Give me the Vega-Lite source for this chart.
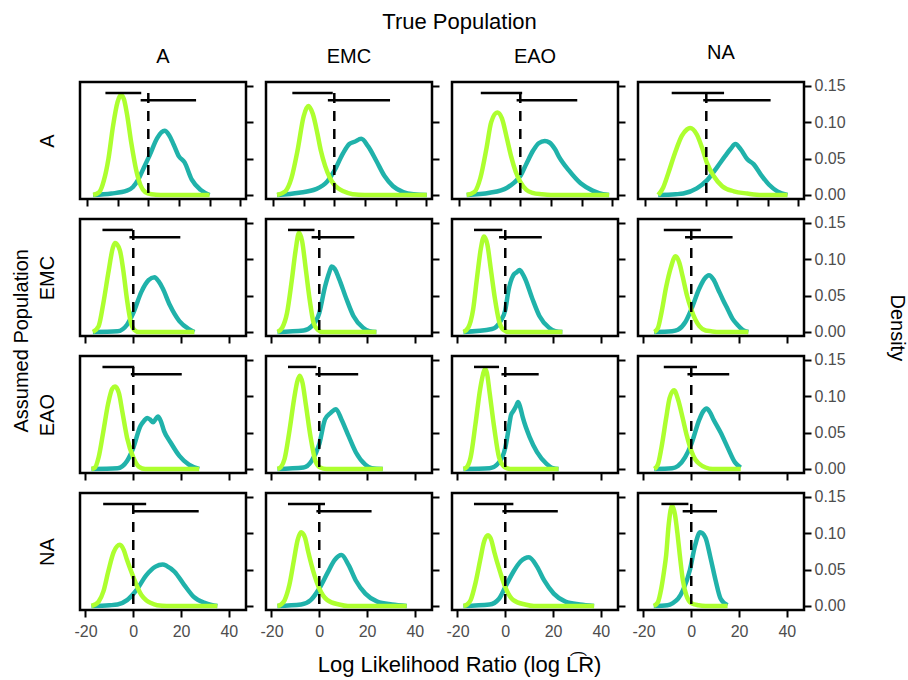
{
"$schema":"https://vega.github.io/schema/vega-lite/v6.json",
"padding":{"left":11,"top":11,"right":3,"bottom":2},
"data":{"name":"all"},
"title":{"text":"True Population","orient":"top","anchor":"middle","fontSize":22,"offset":7},
"vconcat":[{
"title":{"text":"Log Likelihood Ratio (log L\u0361R)","orient":"bottom","anchor":"middle","fontSize":22,"offset":15},
"vconcat":[{
"title":{"text":"Assumed Population","orient":"left","anchor":"middle","fontSize":20,"offset":4},
"vconcat":[{
"title":{"text":"Density","orient":"right","anchor":"middle","angle":90,"fontSize":20,"offset":41,"dx":-13},
"spacing":4,
"vconcat":[
{"hconcat":[
{"width":166,"height":117,"title":{"text":"A","fontSize":20,"offset":15},"resolve":{"axis":{"y":"independent"}},
"transform":[{"filter":"datum.r=='A'&&datum.c=='A'"}],
"encoding":{"x":{"field":"x","type":"quantitative","scale":{"domain":[-22.3,31.9]},"axis":{"values":[-20,-10,0,10,20,30],"labels":false,"title":null}},
"y":{"field":"d","type":"quantitative","scale":{"domain":[-0.0055,0.155]},"axis":null}},
"layer":[
{"transform":[{"filter":"datum.k=='t'"}],"mark":{"type":"line","color":"#20B2AA","strokeWidth":4.5,"interpolate":"monotone"},"encoding":{"y":{"field":"d","type":"quantitative","scale":{"domain":[-0.0055,0.155]},"axis":{"orient":"right","values":[0,0.05,0.1,0.15],"labels":false,"title":null}}}},
{"transform":[{"filter":"datum.k=='g'"}],"mark":{"type":"line","color":"#ADFF2F","strokeWidth":4.5,"interpolate":"monotone"}},
{"transform":[{"filter":"datum.k=='i'"}],"mark":{"type":"rule","color":"black","strokeWidth":2.5},"encoding":{"x2":{"field":"x2"}}},
{"transform":[{"filter":"datum.k=='v'"}],"mark":{"type":"rule","color":"black","strokeWidth":2.5,"strokeDash":[10,8]},"encoding":{"y":{"field":"d","type":"quantitative","scale":{"domain":[-0.0055,0.155]},"axis":{"orient":"left","title":"A","ticks":false,"labels":false,"domain":false,"titlePadding":23}},"y2":{"field":"d2"}}}
]},
{"width":166,"height":117,"title":{"text":"EMC","fontSize":20,"offset":15},
"transform":[{"filter":"datum.r=='A'&&datum.c=='EMC'"}],
"encoding":{"x":{"field":"x","type":"quantitative","scale":{"domain":[-22.3,31.9]},"axis":{"values":[-20,-10,0,10,20,30],"labels":false,"title":null}},
"y":{"field":"d","type":"quantitative","scale":{"domain":[-0.0055,0.155]},"axis":{"orient":"right","values":[0,0.05,0.1,0.15],"labels":false,"title":null}}},
"layer":[
{"transform":[{"filter":"datum.k=='t'"}],"mark":{"type":"line","color":"#20B2AA","strokeWidth":4.5,"interpolate":"monotone"}},
{"transform":[{"filter":"datum.k=='g'"}],"mark":{"type":"line","color":"#ADFF2F","strokeWidth":4.5,"interpolate":"monotone"}},
{"transform":[{"filter":"datum.k=='i'"}],"mark":{"type":"rule","color":"black","strokeWidth":2.5},"encoding":{"x2":{"field":"x2"}}},
{"transform":[{"filter":"datum.k=='v'"}],"mark":{"type":"rule","color":"black","strokeWidth":2.5,"strokeDash":[10,8]},"encoding":{"y2":{"field":"d2"}}}
]},
{"width":166,"height":117,"title":{"text":"EAO","fontSize":20,"offset":15},
"transform":[{"filter":"datum.r=='A'&&datum.c=='EAO'"}],
"encoding":{"x":{"field":"x","type":"quantitative","scale":{"domain":[-22.3,31.9]},"axis":{"values":[-20,-10,0,10,20,30],"labels":false,"title":null}},
"y":{"field":"d","type":"quantitative","scale":{"domain":[-0.0055,0.155]},"axis":{"orient":"right","values":[0,0.05,0.1,0.15],"labels":false,"title":null}}},
"layer":[
{"transform":[{"filter":"datum.k=='t'"}],"mark":{"type":"line","color":"#20B2AA","strokeWidth":4.5,"interpolate":"monotone"}},
{"transform":[{"filter":"datum.k=='g'"}],"mark":{"type":"line","color":"#ADFF2F","strokeWidth":4.5,"interpolate":"monotone"}},
{"transform":[{"filter":"datum.k=='i'"}],"mark":{"type":"rule","color":"black","strokeWidth":2.5},"encoding":{"x2":{"field":"x2"}}},
{"transform":[{"filter":"datum.k=='v'"}],"mark":{"type":"rule","color":"black","strokeWidth":2.5,"strokeDash":[10,8]},"encoding":{"y2":{"field":"d2"}}}
]},
{"width":166,"height":117,"title":{"text":"NA","fontSize":20,"offset":15},
"transform":[{"filter":"datum.r=='A'&&datum.c=='NA'"}],
"encoding":{"x":{"field":"x","type":"quantitative","scale":{"domain":[-22.3,31.9]},"axis":{"values":[-20,-10,0,10,20,30],"labels":false,"title":null}},
"y":{"field":"d","type":"quantitative","scale":{"domain":[-0.0055,0.155]},"axis":{"orient":"right","values":[0,0.05,0.1,0.15],"format":".2f","title":null}}},
"layer":[
{"transform":[{"filter":"datum.k=='t'"}],"mark":{"type":"line","color":"#20B2AA","strokeWidth":4.5,"interpolate":"monotone"}},
{"transform":[{"filter":"datum.k=='g'"}],"mark":{"type":"line","color":"#ADFF2F","strokeWidth":4.5,"interpolate":"monotone"}},
{"transform":[{"filter":"datum.k=='i'"}],"mark":{"type":"rule","color":"black","strokeWidth":2.5},"encoding":{"x2":{"field":"x2"}}},
{"transform":[{"filter":"datum.k=='v'"}],"mark":{"type":"rule","color":"black","strokeWidth":2.5,"strokeDash":[10,8]},"encoding":{"y2":{"field":"d2"}}}
]}
],"spacing":20,"bounds":"flush"},
{"hconcat":[
{"width":166,"height":117,"resolve":{"axis":{"y":"independent"}},
"transform":[{"filter":"datum.r=='EMC'&&datum.c=='A'"}],
"encoding":{"x":{"field":"x","type":"quantitative","scale":{"domain":[-22.3,47.2]},"axis":{"values":[-20,0,20,40],"labels":false,"title":null}},
"y":{"field":"d","type":"quantitative","scale":{"domain":[-0.0055,0.155]},"axis":null}},
"layer":[
{"transform":[{"filter":"datum.k=='t'"}],"mark":{"type":"line","color":"#20B2AA","strokeWidth":4.5,"interpolate":"monotone"},"encoding":{"y":{"field":"d","type":"quantitative","scale":{"domain":[-0.0055,0.155]},"axis":{"orient":"right","values":[0,0.05,0.1,0.15],"labels":false,"title":null}}}},
{"transform":[{"filter":"datum.k=='g'"}],"mark":{"type":"line","color":"#ADFF2F","strokeWidth":4.5,"interpolate":"monotone"}},
{"transform":[{"filter":"datum.k=='i'"}],"mark":{"type":"rule","color":"black","strokeWidth":2.5},"encoding":{"x2":{"field":"x2"}}},
{"transform":[{"filter":"datum.k=='v'"}],"mark":{"type":"rule","color":"black","strokeWidth":2.5,"strokeDash":[10,8]},"encoding":{"y":{"field":"d","type":"quantitative","scale":{"domain":[-0.0055,0.155]},"axis":{"orient":"left","title":"EMC","ticks":false,"labels":false,"domain":false,"titlePadding":23}},"y2":{"field":"d2"}}}
]},
{"width":166,"height":117,
"transform":[{"filter":"datum.r=='EMC'&&datum.c=='EMC'"}],
"encoding":{"x":{"field":"x","type":"quantitative","scale":{"domain":[-22.3,47.2]},"axis":{"values":[-20,0,20,40],"labels":false,"title":null}},
"y":{"field":"d","type":"quantitative","scale":{"domain":[-0.0055,0.155]},"axis":{"orient":"right","values":[0,0.05,0.1,0.15],"labels":false,"title":null}}},
"layer":[
{"transform":[{"filter":"datum.k=='t'"}],"mark":{"type":"line","color":"#20B2AA","strokeWidth":4.5,"interpolate":"monotone"}},
{"transform":[{"filter":"datum.k=='g'"}],"mark":{"type":"line","color":"#ADFF2F","strokeWidth":4.5,"interpolate":"monotone"}},
{"transform":[{"filter":"datum.k=='i'"}],"mark":{"type":"rule","color":"black","strokeWidth":2.5},"encoding":{"x2":{"field":"x2"}}},
{"transform":[{"filter":"datum.k=='v'"}],"mark":{"type":"rule","color":"black","strokeWidth":2.5,"strokeDash":[10,8]},"encoding":{"y2":{"field":"d2"}}}
]},
{"width":166,"height":117,
"transform":[{"filter":"datum.r=='EMC'&&datum.c=='EAO'"}],
"encoding":{"x":{"field":"x","type":"quantitative","scale":{"domain":[-22.3,47.2]},"axis":{"values":[-20,0,20,40],"labels":false,"title":null}},
"y":{"field":"d","type":"quantitative","scale":{"domain":[-0.0055,0.155]},"axis":{"orient":"right","values":[0,0.05,0.1,0.15],"labels":false,"title":null}}},
"layer":[
{"transform":[{"filter":"datum.k=='t'"}],"mark":{"type":"line","color":"#20B2AA","strokeWidth":4.5,"interpolate":"monotone"}},
{"transform":[{"filter":"datum.k=='g'"}],"mark":{"type":"line","color":"#ADFF2F","strokeWidth":4.5,"interpolate":"monotone"}},
{"transform":[{"filter":"datum.k=='i'"}],"mark":{"type":"rule","color":"black","strokeWidth":2.5},"encoding":{"x2":{"field":"x2"}}},
{"transform":[{"filter":"datum.k=='v'"}],"mark":{"type":"rule","color":"black","strokeWidth":2.5,"strokeDash":[10,8]},"encoding":{"y2":{"field":"d2"}}}
]},
{"width":166,"height":117,
"transform":[{"filter":"datum.r=='EMC'&&datum.c=='NA'"}],
"encoding":{"x":{"field":"x","type":"quantitative","scale":{"domain":[-22.3,47.2]},"axis":{"values":[-20,0,20,40],"labels":false,"title":null}},
"y":{"field":"d","type":"quantitative","scale":{"domain":[-0.0055,0.155]},"axis":{"orient":"right","values":[0,0.05,0.1,0.15],"format":".2f","title":null}}},
"layer":[
{"transform":[{"filter":"datum.k=='t'"}],"mark":{"type":"line","color":"#20B2AA","strokeWidth":4.5,"interpolate":"monotone"}},
{"transform":[{"filter":"datum.k=='g'"}],"mark":{"type":"line","color":"#ADFF2F","strokeWidth":4.5,"interpolate":"monotone"}},
{"transform":[{"filter":"datum.k=='i'"}],"mark":{"type":"rule","color":"black","strokeWidth":2.5},"encoding":{"x2":{"field":"x2"}}},
{"transform":[{"filter":"datum.k=='v'"}],"mark":{"type":"rule","color":"black","strokeWidth":2.5,"strokeDash":[10,8]},"encoding":{"y2":{"field":"d2"}}}
]}
],"spacing":20,"bounds":"flush"},
{"hconcat":[
{"width":166,"height":117,"resolve":{"axis":{"y":"independent"}},
"transform":[{"filter":"datum.r=='EAO'&&datum.c=='A'"}],
"encoding":{"x":{"field":"x","type":"quantitative","scale":{"domain":[-22.3,47.2]},"axis":{"values":[-20,0,20,40],"labels":false,"title":null}},
"y":{"field":"d","type":"quantitative","scale":{"domain":[-0.0055,0.155]},"axis":null}},
"layer":[
{"transform":[{"filter":"datum.k=='t'"}],"mark":{"type":"line","color":"#20B2AA","strokeWidth":4.5,"interpolate":"monotone"},"encoding":{"y":{"field":"d","type":"quantitative","scale":{"domain":[-0.0055,0.155]},"axis":{"orient":"right","values":[0,0.05,0.1,0.15],"labels":false,"title":null}}}},
{"transform":[{"filter":"datum.k=='g'"}],"mark":{"type":"line","color":"#ADFF2F","strokeWidth":4.5,"interpolate":"monotone"}},
{"transform":[{"filter":"datum.k=='i'"}],"mark":{"type":"rule","color":"black","strokeWidth":2.5},"encoding":{"x2":{"field":"x2"}}},
{"transform":[{"filter":"datum.k=='v'"}],"mark":{"type":"rule","color":"black","strokeWidth":2.5,"strokeDash":[10,8]},"encoding":{"y":{"field":"d","type":"quantitative","scale":{"domain":[-0.0055,0.155]},"axis":{"orient":"left","title":"EAO","ticks":false,"labels":false,"domain":false,"titlePadding":23}},"y2":{"field":"d2"}}}
]},
{"width":166,"height":117,
"transform":[{"filter":"datum.r=='EAO'&&datum.c=='EMC'"}],
"encoding":{"x":{"field":"x","type":"quantitative","scale":{"domain":[-22.3,47.2]},"axis":{"values":[-20,0,20,40],"labels":false,"title":null}},
"y":{"field":"d","type":"quantitative","scale":{"domain":[-0.0055,0.155]},"axis":{"orient":"right","values":[0,0.05,0.1,0.15],"labels":false,"title":null}}},
"layer":[
{"transform":[{"filter":"datum.k=='t'"}],"mark":{"type":"line","color":"#20B2AA","strokeWidth":4.5,"interpolate":"monotone"}},
{"transform":[{"filter":"datum.k=='g'"}],"mark":{"type":"line","color":"#ADFF2F","strokeWidth":4.5,"interpolate":"monotone"}},
{"transform":[{"filter":"datum.k=='i'"}],"mark":{"type":"rule","color":"black","strokeWidth":2.5},"encoding":{"x2":{"field":"x2"}}},
{"transform":[{"filter":"datum.k=='v'"}],"mark":{"type":"rule","color":"black","strokeWidth":2.5,"strokeDash":[10,8]},"encoding":{"y2":{"field":"d2"}}}
]},
{"width":166,"height":117,
"transform":[{"filter":"datum.r=='EAO'&&datum.c=='EAO'"}],
"encoding":{"x":{"field":"x","type":"quantitative","scale":{"domain":[-22.3,47.2]},"axis":{"values":[-20,0,20,40],"labels":false,"title":null}},
"y":{"field":"d","type":"quantitative","scale":{"domain":[-0.0055,0.155]},"axis":{"orient":"right","values":[0,0.05,0.1,0.15],"labels":false,"title":null}}},
"layer":[
{"transform":[{"filter":"datum.k=='t'"}],"mark":{"type":"line","color":"#20B2AA","strokeWidth":4.5,"interpolate":"monotone"}},
{"transform":[{"filter":"datum.k=='g'"}],"mark":{"type":"line","color":"#ADFF2F","strokeWidth":4.5,"interpolate":"monotone"}},
{"transform":[{"filter":"datum.k=='i'"}],"mark":{"type":"rule","color":"black","strokeWidth":2.5},"encoding":{"x2":{"field":"x2"}}},
{"transform":[{"filter":"datum.k=='v'"}],"mark":{"type":"rule","color":"black","strokeWidth":2.5,"strokeDash":[10,8]},"encoding":{"y2":{"field":"d2"}}}
]},
{"width":166,"height":117,
"transform":[{"filter":"datum.r=='EAO'&&datum.c=='NA'"}],
"encoding":{"x":{"field":"x","type":"quantitative","scale":{"domain":[-22.3,47.2]},"axis":{"values":[-20,0,20,40],"labels":false,"title":null}},
"y":{"field":"d","type":"quantitative","scale":{"domain":[-0.0055,0.155]},"axis":{"orient":"right","values":[0,0.05,0.1,0.15],"format":".2f","title":null}}},
"layer":[
{"transform":[{"filter":"datum.k=='t'"}],"mark":{"type":"line","color":"#20B2AA","strokeWidth":4.5,"interpolate":"monotone"}},
{"transform":[{"filter":"datum.k=='g'"}],"mark":{"type":"line","color":"#ADFF2F","strokeWidth":4.5,"interpolate":"monotone"}},
{"transform":[{"filter":"datum.k=='i'"}],"mark":{"type":"rule","color":"black","strokeWidth":2.5},"encoding":{"x2":{"field":"x2"}}},
{"transform":[{"filter":"datum.k=='v'"}],"mark":{"type":"rule","color":"black","strokeWidth":2.5,"strokeDash":[10,8]},"encoding":{"y2":{"field":"d2"}}}
]}
],"spacing":20,"bounds":"flush"},
{"hconcat":[
{"width":166,"height":117,"resolve":{"axis":{"y":"independent"}},
"transform":[{"filter":"datum.r=='NA'&&datum.c=='A'"}],
"encoding":{"x":{"field":"x","type":"quantitative","scale":{"domain":[-22.3,47.2]},"axis":{"values":[-20,0,20,40],"title":null,"labelPadding":6,"labelExpr":"''+datum.value"}},
"y":{"field":"d","type":"quantitative","scale":{"domain":[-0.0055,0.155]},"axis":null}},
"layer":[
{"transform":[{"filter":"datum.k=='t'"}],"mark":{"type":"line","color":"#20B2AA","strokeWidth":4.5,"interpolate":"monotone"},"encoding":{"y":{"field":"d","type":"quantitative","scale":{"domain":[-0.0055,0.155]},"axis":{"orient":"right","values":[0,0.05,0.1,0.15],"labels":false,"title":null}}}},
{"transform":[{"filter":"datum.k=='g'"}],"mark":{"type":"line","color":"#ADFF2F","strokeWidth":4.5,"interpolate":"monotone"}},
{"transform":[{"filter":"datum.k=='i'"}],"mark":{"type":"rule","color":"black","strokeWidth":2.5},"encoding":{"x2":{"field":"x2"}}},
{"transform":[{"filter":"datum.k=='v'"}],"mark":{"type":"rule","color":"black","strokeWidth":2.5,"strokeDash":[10,8]},"encoding":{"y":{"field":"d","type":"quantitative","scale":{"domain":[-0.0055,0.155]},"axis":{"orient":"left","title":"NA","ticks":false,"labels":false,"domain":false,"titlePadding":23}},"y2":{"field":"d2"}}}
]},
{"width":166,"height":117,
"transform":[{"filter":"datum.r=='NA'&&datum.c=='EMC'"}],
"encoding":{"x":{"field":"x","type":"quantitative","scale":{"domain":[-22.3,47.2]},"axis":{"values":[-20,0,20,40],"title":null,"labelPadding":6,"labelExpr":"''+datum.value"}},
"y":{"field":"d","type":"quantitative","scale":{"domain":[-0.0055,0.155]},"axis":{"orient":"right","values":[0,0.05,0.1,0.15],"labels":false,"title":null}}},
"layer":[
{"transform":[{"filter":"datum.k=='t'"}],"mark":{"type":"line","color":"#20B2AA","strokeWidth":4.5,"interpolate":"monotone"}},
{"transform":[{"filter":"datum.k=='g'"}],"mark":{"type":"line","color":"#ADFF2F","strokeWidth":4.5,"interpolate":"monotone"}},
{"transform":[{"filter":"datum.k=='i'"}],"mark":{"type":"rule","color":"black","strokeWidth":2.5},"encoding":{"x2":{"field":"x2"}}},
{"transform":[{"filter":"datum.k=='v'"}],"mark":{"type":"rule","color":"black","strokeWidth":2.5,"strokeDash":[10,8]},"encoding":{"y2":{"field":"d2"}}}
]},
{"width":166,"height":117,
"transform":[{"filter":"datum.r=='NA'&&datum.c=='EAO'"}],
"encoding":{"x":{"field":"x","type":"quantitative","scale":{"domain":[-22.3,47.2]},"axis":{"values":[-20,0,20,40],"title":null,"labelPadding":6,"labelExpr":"''+datum.value"}},
"y":{"field":"d","type":"quantitative","scale":{"domain":[-0.0055,0.155]},"axis":{"orient":"right","values":[0,0.05,0.1,0.15],"labels":false,"title":null}}},
"layer":[
{"transform":[{"filter":"datum.k=='t'"}],"mark":{"type":"line","color":"#20B2AA","strokeWidth":4.5,"interpolate":"monotone"}},
{"transform":[{"filter":"datum.k=='g'"}],"mark":{"type":"line","color":"#ADFF2F","strokeWidth":4.5,"interpolate":"monotone"}},
{"transform":[{"filter":"datum.k=='i'"}],"mark":{"type":"rule","color":"black","strokeWidth":2.5},"encoding":{"x2":{"field":"x2"}}},
{"transform":[{"filter":"datum.k=='v'"}],"mark":{"type":"rule","color":"black","strokeWidth":2.5,"strokeDash":[10,8]},"encoding":{"y2":{"field":"d2"}}}
]},
{"width":166,"height":117,
"transform":[{"filter":"datum.r=='NA'&&datum.c=='NA'"}],
"encoding":{"x":{"field":"x","type":"quantitative","scale":{"domain":[-22.3,47.2]},"axis":{"values":[-20,0,20,40],"title":null,"labelPadding":6,"labelExpr":"''+datum.value"}},
"y":{"field":"d","type":"quantitative","scale":{"domain":[-0.0055,0.155]},"axis":{"orient":"right","values":[0,0.05,0.1,0.15],"format":".2f","title":null}}},
"layer":[
{"transform":[{"filter":"datum.k=='t'"}],"mark":{"type":"line","color":"#20B2AA","strokeWidth":4.5,"interpolate":"monotone"}},
{"transform":[{"filter":"datum.k=='g'"}],"mark":{"type":"line","color":"#ADFF2F","strokeWidth":4.5,"interpolate":"monotone"}},
{"transform":[{"filter":"datum.k=='i'"}],"mark":{"type":"rule","color":"black","strokeWidth":2.5},"encoding":{"x2":{"field":"x2"}}},
{"transform":[{"filter":"datum.k=='v'"}],"mark":{"type":"rule","color":"black","strokeWidth":2.5,"strokeDash":[10,8]},"encoding":{"y2":{"field":"d2"}}}
]}
],"spacing":20,"bounds":"flush"}
]
}]
}]
}],
"datasets":{"all":[
{"r":"A","c":"A","k":"g","x":-18,"d":0},{"r":"A","c":"A","k":"g","x":-16,"d":0.004},{"r":"A","c":"A","k":"g","x":-14.5,"d":0.02},{"r":"A","c":"A","k":"g","x":-13,"d":0.05},{"r":"A","c":"A","k":"g","x":-11.5,"d":0.095},{"r":"A","c":"A","k":"g","x":-10,"d":0.128},{"r":"A","c":"A","k":"g","x":-9,"d":0.137},{"r":"A","c":"A","k":"g","x":-8,"d":0.132},{"r":"A","c":"A","k":"g","x":-7,"d":0.112},{"r":"A","c":"A","k":"g","x":-5.5,"d":0.07},{"r":"A","c":"A","k":"g","x":-4,"d":0.035},{"r":"A","c":"A","k":"g","x":-2.5,"d":0.013},{"r":"A","c":"A","k":"g","x":-1,"d":0.004},{"r":"A","c":"A","k":"g","x":1,"d":0.001},{"r":"A","c":"A","k":"g","x":4,"d":0},{"r":"A","c":"A","k":"g","x":20,"d":0},
{"r":"A","c":"A","k":"t","x":-18,"d":0},{"r":"A","c":"A","k":"t","x":-12,"d":0.002},{"r":"A","c":"A","k":"t","x":-7,"d":0.006},{"r":"A","c":"A","k":"t","x":-5,"d":0.011},{"r":"A","c":"A","k":"t","x":-3.3,"d":0.021},{"r":"A","c":"A","k":"t","x":-1.5,"d":0.037},{"r":"A","c":"A","k":"t","x":0.5,"d":0.055},{"r":"A","c":"A","k":"t","x":2.9,"d":0.078},{"r":"A","c":"A","k":"t","x":5.3,"d":0.088},{"r":"A","c":"A","k":"t","x":6.8,"d":0.082},{"r":"A","c":"A","k":"t","x":8.3,"d":0.069},{"r":"A","c":"A","k":"t","x":10,"d":0.053},{"r":"A","c":"A","k":"t","x":11.8,"d":0.045},{"r":"A","c":"A","k":"t","x":14.2,"d":0.021},{"r":"A","c":"A","k":"t","x":17.1,"d":0.007},{"r":"A","c":"A","k":"t","x":20,"d":0},
{"r":"A","c":"A","k":"i","x":-14,"x2":-2.3,"d":0.14},{"r":"A","c":"A","k":"i","x":-2.5,"x2":15.6,"d":0.13},{"r":"A","c":"A","k":"v","x":0,"d":0.14,"d2":-0.005},

{"r":"A","c":"EMC","k":"g","x":-18.7,"d":0},{"r":"A","c":"EMC","k":"g","x":-16,"d":0.005},{"r":"A","c":"EMC","k":"g","x":-14,"d":0.023},{"r":"A","c":"EMC","k":"g","x":-12,"d":0.061},{"r":"A","c":"EMC","k":"g","x":-10,"d":0.108},{"r":"A","c":"EMC","k":"g","x":-8.5,"d":0.122},{"r":"A","c":"EMC","k":"g","x":-7,"d":0.111},{"r":"A","c":"EMC","k":"g","x":-5.5,"d":0.084},{"r":"A","c":"EMC","k":"g","x":-4.4,"d":0.061},{"r":"A","c":"EMC","k":"g","x":-3,"d":0.04},{"r":"A","c":"EMC","k":"g","x":-1.5,"d":0.024},{"r":"A","c":"EMC","k":"g","x":0,"d":0.014},{"r":"A","c":"EMC","k":"g","x":1,"d":0.01},{"r":"A","c":"EMC","k":"g","x":3,"d":0.005},{"r":"A","c":"EMC","k":"g","x":6,"d":0.001},{"r":"A","c":"EMC","k":"g","x":10,"d":0},{"r":"A","c":"EMC","k":"g","x":30.2,"d":0},
{"r":"A","c":"EMC","k":"t","x":-18.7,"d":0},{"r":"A","c":"EMC","k":"t","x":-11.5,"d":0.003},{"r":"A","c":"EMC","k":"t","x":-6,"d":0.008},{"r":"A","c":"EMC","k":"t","x":-2.2,"d":0.019},{"r":"A","c":"EMC","k":"t","x":0,"d":0.033},{"r":"A","c":"EMC","k":"t","x":2.7,"d":0.056},{"r":"A","c":"EMC","k":"t","x":4.9,"d":0.07},{"r":"A","c":"EMC","k":"t","x":6.6,"d":0.073},{"r":"A","c":"EMC","k":"t","x":8.8,"d":0.077},{"r":"A","c":"EMC","k":"t","x":11,"d":0.067},{"r":"A","c":"EMC","k":"t","x":13.7,"d":0.047},{"r":"A","c":"EMC","k":"t","x":16.4,"d":0.026},{"r":"A","c":"EMC","k":"t","x":19.2,"d":0.012},{"r":"A","c":"EMC","k":"t","x":22.5,"d":0.004},{"r":"A","c":"EMC","k":"t","x":26,"d":0.001},{"r":"A","c":"EMC","k":"t","x":30.2,"d":0},
{"r":"A","c":"EMC","k":"i","x":-13.7,"x2":-0.5,"d":0.14},{"r":"A","c":"EMC","k":"i","x":-2.1,"x2":18.2,"d":0.13},{"r":"A","c":"EMC","k":"v","x":0,"d":0.14,"d2":-0.005},

{"r":"A","c":"EAO","k":"g","x":-17.5,"d":0},{"r":"A","c":"EAO","k":"g","x":-15,"d":0.004},{"r":"A","c":"EAO","k":"g","x":-13,"d":0.024},{"r":"A","c":"EAO","k":"g","x":-11,"d":0.065},{"r":"A","c":"EAO","k":"g","x":-9.5,"d":0.1},{"r":"A","c":"EAO","k":"g","x":-7.5,"d":0.113},{"r":"A","c":"EAO","k":"g","x":-6,"d":0.105},{"r":"A","c":"EAO","k":"g","x":-4.5,"d":0.08},{"r":"A","c":"EAO","k":"g","x":-3,"d":0.053},{"r":"A","c":"EAO","k":"g","x":-1.5,"d":0.032},{"r":"A","c":"EAO","k":"g","x":0,"d":0.018},{"r":"A","c":"EAO","k":"g","x":2,"d":0.007},{"r":"A","c":"EAO","k":"g","x":4,"d":0.003},{"r":"A","c":"EAO","k":"g","x":7,"d":0.001},{"r":"A","c":"EAO","k":"g","x":10,"d":0},{"r":"A","c":"EAO","k":"g","x":29,"d":0},
{"r":"A","c":"EAO","k":"t","x":-17.5,"d":0},{"r":"A","c":"EAO","k":"t","x":-10,"d":0.003},{"r":"A","c":"EAO","k":"t","x":-4.3,"d":0.01},{"r":"A","c":"EAO","k":"t","x":-2,"d":0.017},{"r":"A","c":"EAO","k":"t","x":0,"d":0.026},{"r":"A","c":"EAO","k":"t","x":2,"d":0.043},{"r":"A","c":"EAO","k":"t","x":4.2,"d":0.061},{"r":"A","c":"EAO","k":"t","x":6,"d":0.071},{"r":"A","c":"EAO","k":"t","x":8,"d":0.074},{"r":"A","c":"EAO","k":"t","x":9.5,"d":0.072},{"r":"A","c":"EAO","k":"t","x":11.3,"d":0.063},{"r":"A","c":"EAO","k":"t","x":12.7,"d":0.052},{"r":"A","c":"EAO","k":"t","x":15.8,"d":0.034},{"r":"A","c":"EAO","k":"t","x":19.7,"d":0.016},{"r":"A","c":"EAO","k":"t","x":23.6,"d":0.006},{"r":"A","c":"EAO","k":"t","x":27,"d":0.001},{"r":"A","c":"EAO","k":"t","x":29,"d":0},
{"r":"A","c":"EAO","k":"i","x":-12.9,"x2":0.6,"d":0.14},{"r":"A","c":"EAO","k":"i","x":-1.2,"x2":18.6,"d":0.13},{"r":"A","c":"EAO","k":"v","x":0,"d":0.14,"d2":-0.005},

{"r":"A","c":"NA","k":"g","x":-15.7,"d":0},{"r":"A","c":"NA","k":"g","x":-14.1,"d":0.01},{"r":"A","c":"NA","k":"g","x":-12.4,"d":0.03},{"r":"A","c":"NA","k":"g","x":-10.2,"d":0.058},{"r":"A","c":"NA","k":"g","x":-8,"d":0.081},{"r":"A","c":"NA","k":"g","x":-6.3,"d":0.09},{"r":"A","c":"NA","k":"g","x":-5.3,"d":0.092},{"r":"A","c":"NA","k":"g","x":-3.1,"d":0.083},{"r":"A","c":"NA","k":"g","x":-1.4,"d":0.065},{"r":"A","c":"NA","k":"g","x":0.2,"d":0.044},{"r":"A","c":"NA","k":"g","x":2.4,"d":0.026},{"r":"A","c":"NA","k":"g","x":5.2,"d":0.012},{"r":"A","c":"NA","k":"g","x":9,"d":0.005},{"r":"A","c":"NA","k":"g","x":13.4,"d":0.002},{"r":"A","c":"NA","k":"g","x":18,"d":0},{"r":"A","c":"NA","k":"g","x":26.5,"d":0},
{"r":"A","c":"NA","k":"t","x":-15.7,"d":0},{"r":"A","c":"NA","k":"t","x":-10,"d":0.001},{"r":"A","c":"NA","k":"t","x":-7.5,"d":0.002},{"r":"A","c":"NA","k":"t","x":-3.1,"d":0.009},{"r":"A","c":"NA","k":"t","x":0.2,"d":0.02},{"r":"A","c":"NA","k":"t","x":3.5,"d":0.038},{"r":"A","c":"NA","k":"t","x":6.25,"d":0.054},{"r":"A","c":"NA","k":"t","x":7.9,"d":0.063},{"r":"A","c":"NA","k":"t","x":9.5,"d":0.07},{"r":"A","c":"NA","k":"t","x":11.2,"d":0.063},{"r":"A","c":"NA","k":"t","x":13.4,"d":0.049},{"r":"A","c":"NA","k":"t","x":15.5,"d":0.042},{"r":"A","c":"NA","k":"t","x":17.8,"d":0.028},{"r":"A","c":"NA","k":"t","x":20.5,"d":0.014},{"r":"A","c":"NA","k":"t","x":23.2,"d":0.005},{"r":"A","c":"NA","k":"t","x":26.5,"d":0},
{"r":"A","c":"NA","k":"i","x":-11.3,"x2":5.8,"d":0.14},{"r":"A","c":"NA","k":"i","x":-1,"x2":21,"d":0.13},{"r":"A","c":"NA","k":"v","x":0,"d":0.14,"d2":-0.005},

{"r":"EMC","c":"A","k":"g","x":-16.9,"d":0},{"r":"EMC","c":"A","k":"g","x":-14.5,"d":0.008},{"r":"EMC","c":"A","k":"g","x":-12.5,"d":0.04},{"r":"EMC","c":"A","k":"g","x":-10.5,"d":0.08},{"r":"EMC","c":"A","k":"g","x":-8.5,"d":0.116},{"r":"EMC","c":"A","k":"g","x":-7.6,"d":0.122},{"r":"EMC","c":"A","k":"g","x":-5.6,"d":0.112},{"r":"EMC","c":"A","k":"g","x":-4.2,"d":0.085},{"r":"EMC","c":"A","k":"g","x":-2.6,"d":0.044},{"r":"EMC","c":"A","k":"g","x":-1,"d":0.013},{"r":"EMC","c":"A","k":"g","x":0.4,"d":0.003},{"r":"EMC","c":"A","k":"g","x":2.4,"d":0},{"r":"EMC","c":"A","k":"g","x":25.6,"d":0},
{"r":"EMC","c":"A","k":"t","x":-16.9,"d":0},{"r":"EMC","c":"A","k":"t","x":-6.6,"d":0.001},{"r":"EMC","c":"A","k":"t","x":-2.6,"d":0.01},{"r":"EMC","c":"A","k":"t","x":0,"d":0.026},{"r":"EMC","c":"A","k":"t","x":3.4,"d":0.055},{"r":"EMC","c":"A","k":"t","x":6.4,"d":0.071},{"r":"EMC","c":"A","k":"t","x":8.9,"d":0.075},{"r":"EMC","c":"A","k":"t","x":10.5,"d":0.07},{"r":"EMC","c":"A","k":"t","x":12.3,"d":0.06},{"r":"EMC","c":"A","k":"t","x":15.3,"d":0.037},{"r":"EMC","c":"A","k":"t","x":19.3,"d":0.015},{"r":"EMC","c":"A","k":"t","x":23.3,"d":0.004},{"r":"EMC","c":"A","k":"t","x":25.6,"d":0},
{"r":"EMC","c":"A","k":"i","x":-12.9,"x2":-0.2,"d":0.14},{"r":"EMC","c":"A","k":"i","x":-1.6,"x2":19.7,"d":0.13},{"r":"EMC","c":"A","k":"v","x":0,"d":0.14,"d2":-0.005},

{"r":"EMC","c":"EMC","k":"g","x":-17.5,"d":0},{"r":"EMC","c":"EMC","k":"g","x":-15.5,"d":0.006},{"r":"EMC","c":"EMC","k":"g","x":-13.5,"d":0.026},{"r":"EMC","c":"EMC","k":"g","x":-11.5,"d":0.071},{"r":"EMC","c":"EMC","k":"g","x":-9.9,"d":0.112},{"r":"EMC","c":"EMC","k":"g","x":-8.5,"d":0.136},{"r":"EMC","c":"EMC","k":"g","x":-7.2,"d":0.125},{"r":"EMC","c":"EMC","k":"g","x":-5.6,"d":0.085},{"r":"EMC","c":"EMC","k":"g","x":-4,"d":0.044},{"r":"EMC","c":"EMC","k":"g","x":-2.4,"d":0.013},{"r":"EMC","c":"EMC","k":"g","x":-0.6,"d":0.003},{"r":"EMC","c":"EMC","k":"g","x":1.4,"d":0},{"r":"EMC","c":"EMC","k":"g","x":23.9,"d":0},
{"r":"EMC","c":"EMC","k":"t","x":-17.5,"d":0},{"r":"EMC","c":"EMC","k":"t","x":-6.6,"d":0.002},{"r":"EMC","c":"EMC","k":"t","x":-3.2,"d":0.008},{"r":"EMC","c":"EMC","k":"t","x":0,"d":0.026},{"r":"EMC","c":"EMC","k":"t","x":2.4,"d":0.062},{"r":"EMC","c":"EMC","k":"t","x":4.2,"d":0.082},{"r":"EMC","c":"EMC","k":"t","x":5.2,"d":0.09},{"r":"EMC","c":"EMC","k":"t","x":6.4,"d":0.087},{"r":"EMC","c":"EMC","k":"t","x":8.3,"d":0.073},{"r":"EMC","c":"EMC","k":"t","x":11.3,"d":0.046},{"r":"EMC","c":"EMC","k":"t","x":14.3,"d":0.022},{"r":"EMC","c":"EMC","k":"t","x":18.3,"d":0.006},{"r":"EMC","c":"EMC","k":"t","x":21,"d":0.001},{"r":"EMC","c":"EMC","k":"t","x":23.9,"d":0},
{"r":"EMC","c":"EMC","k":"i","x":-13.1,"x2":-2,"d":0.14},{"r":"EMC","c":"EMC","k":"i","x":-3.2,"x2":14.7,"d":0.13},{"r":"EMC","c":"EMC","k":"v","x":0,"d":0.14,"d2":-0.005},

{"r":"EMC","c":"EAO","k":"g","x":-17.5,"d":0},{"r":"EMC","c":"EAO","k":"g","x":-15.5,"d":0.006},{"r":"EMC","c":"EAO","k":"g","x":-13.5,"d":0.03},{"r":"EMC","c":"EAO","k":"g","x":-11.8,"d":0.075},{"r":"EMC","c":"EAO","k":"g","x":-10.2,"d":0.115},{"r":"EMC","c":"EAO","k":"g","x":-8.9,"d":0.131},{"r":"EMC","c":"EAO","k":"g","x":-7.5,"d":0.12},{"r":"EMC","c":"EAO","k":"g","x":-6,"d":0.085},{"r":"EMC","c":"EAO","k":"g","x":-4.3,"d":0.045},{"r":"EMC","c":"EAO","k":"g","x":-2.6,"d":0.015},{"r":"EMC","c":"EAO","k":"g","x":-0.8,"d":0.003},{"r":"EMC","c":"EAO","k":"g","x":1.4,"d":0},{"r":"EMC","c":"EAO","k":"g","x":23.9,"d":0},
{"r":"EMC","c":"EAO","k":"t","x":-17.5,"d":0},{"r":"EMC","c":"EAO","k":"t","x":-5.6,"d":0.004},{"r":"EMC","c":"EAO","k":"t","x":-2,"d":0.015},{"r":"EMC","c":"EAO","k":"t","x":0,"d":0.03},{"r":"EMC","c":"EAO","k":"t","x":1.4,"d":0.058},{"r":"EMC","c":"EAO","k":"t","x":3.4,"d":0.078},{"r":"EMC","c":"EAO","k":"t","x":4.8,"d":0.082},{"r":"EMC","c":"EAO","k":"t","x":6,"d":0.085},{"r":"EMC","c":"EAO","k":"t","x":7.2,"d":0.08},{"r":"EMC","c":"EAO","k":"t","x":8.3,"d":0.073},{"r":"EMC","c":"EAO","k":"t","x":11.3,"d":0.046},{"r":"EMC","c":"EAO","k":"t","x":14.3,"d":0.022},{"r":"EMC","c":"EAO","k":"t","x":18.3,"d":0.006},{"r":"EMC","c":"EAO","k":"t","x":21,"d":0.001},{"r":"EMC","c":"EAO","k":"t","x":23.9,"d":0},
{"r":"EMC","c":"EAO","k":"i","x":-13.1,"x2":-1.2,"d":0.14},{"r":"EMC","c":"EAO","k":"i","x":-2.6,"x2":15.3,"d":0.13},{"r":"EMC","c":"EAO","k":"v","x":0,"d":0.14,"d2":-0.005},

{"r":"EMC","c":"NA","k":"g","x":-15.5,"d":0},{"r":"EMC","c":"NA","k":"g","x":-14,"d":0.005},{"r":"EMC","c":"NA","k":"g","x":-12.5,"d":0.026},{"r":"EMC","c":"NA","k":"g","x":-10.5,"d":0.062},{"r":"EMC","c":"NA","k":"g","x":-8.5,"d":0.089},{"r":"EMC","c":"NA","k":"g","x":-6.6,"d":0.104},{"r":"EMC","c":"NA","k":"g","x":-5,"d":0.095},{"r":"EMC","c":"NA","k":"g","x":-3.6,"d":0.076},{"r":"EMC","c":"NA","k":"g","x":-1.8,"d":0.05},{"r":"EMC","c":"NA","k":"g","x":0,"d":0.031},{"r":"EMC","c":"NA","k":"g","x":1.7,"d":0.017},{"r":"EMC","c":"NA","k":"g","x":3.4,"d":0.008},{"r":"EMC","c":"NA","k":"g","x":6,"d":0.002},{"r":"EMC","c":"NA","k":"g","x":8.3,"d":0.001},{"r":"EMC","c":"NA","k":"g","x":12,"d":0},{"r":"EMC","c":"NA","k":"g","x":23.9,"d":0},
{"r":"EMC","c":"NA","k":"t","x":-15.5,"d":0},{"r":"EMC","c":"NA","k":"t","x":-8,"d":0.001},{"r":"EMC","c":"NA","k":"t","x":-5.6,"d":0.003},{"r":"EMC","c":"NA","k":"t","x":-2.6,"d":0.013},{"r":"EMC","c":"NA","k":"t","x":0,"d":0.031},{"r":"EMC","c":"NA","k":"t","x":3.4,"d":0.06},{"r":"EMC","c":"NA","k":"t","x":5.5,"d":0.073},{"r":"EMC","c":"NA","k":"t","x":7.4,"d":0.078},{"r":"EMC","c":"NA","k":"t","x":9.3,"d":0.072},{"r":"EMC","c":"NA","k":"t","x":11.3,"d":0.058},{"r":"EMC","c":"NA","k":"t","x":13.3,"d":0.044},{"r":"EMC","c":"NA","k":"t","x":15.3,"d":0.031},{"r":"EMC","c":"NA","k":"t","x":17.3,"d":0.018},{"r":"EMC","c":"NA","k":"t","x":19.3,"d":0.01},{"r":"EMC","c":"NA","k":"t","x":21.5,"d":0.003},{"r":"EMC","c":"NA","k":"t","x":23.9,"d":0},
{"r":"EMC","c":"NA","k":"i","x":-11.5,"x2":4,"d":0.14},{"r":"EMC","c":"NA","k":"i","x":-2.6,"x2":17.3,"d":0.13},{"r":"EMC","c":"NA","k":"v","x":0,"d":0.14,"d2":-0.005},

{"r":"EAO","c":"A","k":"g","x":-17.5,"d":0},{"r":"EAO","c":"A","k":"g","x":-16,"d":0.002},{"r":"EAO","c":"A","k":"g","x":-14.5,"d":0.016},{"r":"EAO","c":"A","k":"g","x":-12.5,"d":0.052},{"r":"EAO","c":"A","k":"g","x":-10.5,"d":0.09},{"r":"EAO","c":"A","k":"g","x":-8.8,"d":0.11},{"r":"EAO","c":"A","k":"g","x":-7.6,"d":0.113},{"r":"EAO","c":"A","k":"g","x":-6,"d":0.104},{"r":"EAO","c":"A","k":"g","x":-4.6,"d":0.079},{"r":"EAO","c":"A","k":"g","x":-2.6,"d":0.043},{"r":"EAO","c":"A","k":"g","x":0,"d":0.016},{"r":"EAO","c":"A","k":"g","x":2.4,"d":0.003},{"r":"EAO","c":"A","k":"g","x":5,"d":0},{"r":"EAO","c":"A","k":"g","x":27.6,"d":0},
{"r":"EAO","c":"A","k":"t","x":-17.5,"d":0},{"r":"EAO","c":"A","k":"t","x":-6.6,"d":0.001},{"r":"EAO","c":"A","k":"t","x":-2.6,"d":0.011},{"r":"EAO","c":"A","k":"t","x":0,"d":0.029},{"r":"EAO","c":"A","k":"t","x":3,"d":0.059},{"r":"EAO","c":"A","k":"t","x":4.5,"d":0.066},{"r":"EAO","c":"A","k":"t","x":5.8,"d":0.07},{"r":"EAO","c":"A","k":"t","x":7,"d":0.068},{"r":"EAO","c":"A","k":"t","x":8.3,"d":0.064},{"r":"EAO","c":"A","k":"t","x":9.3,"d":0.068},{"r":"EAO","c":"A","k":"t","x":10.3,"d":0.072},{"r":"EAO","c":"A","k":"t","x":11.5,"d":0.066},{"r":"EAO","c":"A","k":"t","x":12.9,"d":0.052},{"r":"EAO","c":"A","k":"t","x":15.7,"d":0.036},{"r":"EAO","c":"A","k":"t","x":19.3,"d":0.018},{"r":"EAO","c":"A","k":"t","x":23.3,"d":0.006},{"r":"EAO","c":"A","k":"t","x":27.6,"d":0},
{"r":"EAO","c":"A","k":"i","x":-12.9,"x2":0.4,"d":0.14},{"r":"EAO","c":"A","k":"i","x":-1,"x2":20.3,"d":0.13},{"r":"EAO","c":"A","k":"v","x":0,"d":0.14,"d2":-0.005},

{"r":"EAO","c":"EMC","k":"g","x":-17.5,"d":0},{"r":"EAO","c":"EMC","k":"g","x":-16,"d":0.003},{"r":"EAO","c":"EMC","k":"g","x":-14.5,"d":0.014},{"r":"EAO","c":"EMC","k":"g","x":-12.5,"d":0.052},{"r":"EAO","c":"EMC","k":"g","x":-10.5,"d":0.097},{"r":"EAO","c":"EMC","k":"g","x":-9.2,"d":0.12},{"r":"EAO","c":"EMC","k":"g","x":-8.2,"d":0.128},{"r":"EAO","c":"EMC","k":"g","x":-7,"d":0.118},{"r":"EAO","c":"EMC","k":"g","x":-5.6,"d":0.088},{"r":"EAO","c":"EMC","k":"g","x":-3.6,"d":0.043},{"r":"EAO","c":"EMC","k":"g","x":-1.6,"d":0.011},{"r":"EAO","c":"EMC","k":"g","x":0.4,"d":0.002},{"r":"EAO","c":"EMC","k":"g","x":3,"d":0},{"r":"EAO","c":"EMC","k":"g","x":26.6,"d":0},
{"r":"EAO","c":"EMC","k":"t","x":-17.5,"d":0},{"r":"EAO","c":"EMC","k":"t","x":-6.6,"d":0.002},{"r":"EAO","c":"EMC","k":"t","x":-3.2,"d":0.011},{"r":"EAO","c":"EMC","k":"t","x":0,"d":0.034},{"r":"EAO","c":"EMC","k":"t","x":2.4,"d":0.068},{"r":"EAO","c":"EMC","k":"t","x":4.8,"d":0.077},{"r":"EAO","c":"EMC","k":"t","x":7,"d":0.082},{"r":"EAO","c":"EMC","k":"t","x":9.3,"d":0.068},{"r":"EAO","c":"EMC","k":"t","x":12.3,"d":0.045},{"r":"EAO","c":"EMC","k":"t","x":15.3,"d":0.023},{"r":"EAO","c":"EMC","k":"t","x":19.3,"d":0.006},{"r":"EAO","c":"EMC","k":"t","x":22,"d":0.001},{"r":"EAO","c":"EMC","k":"t","x":26.6,"d":0},
{"r":"EAO","c":"EMC","k":"i","x":-13.1,"x2":-1.2,"d":0.14},{"r":"EAO","c":"EMC","k":"i","x":-1.6,"x2":16.3,"d":0.13},{"r":"EAO","c":"EMC","k":"v","x":0,"d":0.14,"d2":-0.005},

{"r":"EAO","c":"EAO","k":"g","x":-17.5,"d":0},{"r":"EAO","c":"EAO","k":"g","x":-16,"d":0.003},{"r":"EAO","c":"EAO","k":"g","x":-14.5,"d":0.016},{"r":"EAO","c":"EAO","k":"g","x":-12.5,"d":0.061},{"r":"EAO","c":"EAO","k":"g","x":-10.5,"d":0.11},{"r":"EAO","c":"EAO","k":"g","x":-9.3,"d":0.13},{"r":"EAO","c":"EAO","k":"g","x":-8.5,"d":0.137},{"r":"EAO","c":"EAO","k":"g","x":-7.7,"d":0.132},{"r":"EAO","c":"EAO","k":"g","x":-6.6,"d":0.106},{"r":"EAO","c":"EAO","k":"g","x":-4.6,"d":0.056},{"r":"EAO","c":"EAO","k":"g","x":-2.6,"d":0.016},{"r":"EAO","c":"EAO","k":"g","x":0,"d":0.002},{"r":"EAO","c":"EAO","k":"g","x":2,"d":0},{"r":"EAO","c":"EAO","k":"g","x":22.3,"d":0},
{"r":"EAO","c":"EAO","k":"t","x":-17.5,"d":0},{"r":"EAO","c":"EAO","k":"t","x":-6.6,"d":0.001},{"r":"EAO","c":"EAO","k":"t","x":-2.6,"d":0.009},{"r":"EAO","c":"EAO","k":"t","x":0,"d":0.029},{"r":"EAO","c":"EAO","k":"t","x":1.4,"d":0.055},{"r":"EAO","c":"EAO","k":"t","x":2.4,"d":0.074},{"r":"EAO","c":"EAO","k":"t","x":3.5,"d":0.08},{"r":"EAO","c":"EAO","k":"t","x":4.5,"d":0.086},{"r":"EAO","c":"EAO","k":"t","x":5.4,"d":0.092},{"r":"EAO","c":"EAO","k":"t","x":6.4,"d":0.083},{"r":"EAO","c":"EAO","k":"t","x":7.4,"d":0.07},{"r":"EAO","c":"EAO","k":"t","x":10.3,"d":0.043},{"r":"EAO","c":"EAO","k":"t","x":13.3,"d":0.023},{"r":"EAO","c":"EAO","k":"t","x":17.3,"d":0.007},{"r":"EAO","c":"EAO","k":"t","x":20,"d":0.001},{"r":"EAO","c":"EAO","k":"t","x":22.3,"d":0},
{"r":"EAO","c":"EAO","k":"i","x":-13.1,"x2":-2.6,"d":0.14},{"r":"EAO","c":"EAO","k":"i","x":-1.6,"x2":14,"d":0.13},{"r":"EAO","c":"EAO","k":"v","x":0,"d":0.14,"d2":-0.005},

{"r":"EAO","c":"NA","k":"g","x":-15.5,"d":0},{"r":"EAO","c":"NA","k":"g","x":-14,"d":0.006},{"r":"EAO","c":"NA","k":"g","x":-12.5,"d":0.029},{"r":"EAO","c":"NA","k":"g","x":-10.5,"d":0.07},{"r":"EAO","c":"NA","k":"g","x":-9.1,"d":0.097},{"r":"EAO","c":"NA","k":"g","x":-7.2,"d":0.108},{"r":"EAO","c":"NA","k":"g","x":-5.5,"d":0.095},{"r":"EAO","c":"NA","k":"g","x":-3.6,"d":0.07},{"r":"EAO","c":"NA","k":"g","x":-1.8,"d":0.045},{"r":"EAO","c":"NA","k":"g","x":0,"d":0.025},{"r":"EAO","c":"NA","k":"g","x":1.7,"d":0.013},{"r":"EAO","c":"NA","k":"g","x":3.4,"d":0.007},{"r":"EAO","c":"NA","k":"g","x":6,"d":0.002},{"r":"EAO","c":"NA","k":"g","x":9,"d":0},{"r":"EAO","c":"NA","k":"g","x":20.7,"d":0},
{"r":"EAO","c":"NA","k":"t","x":-15.5,"d":0},{"r":"EAO","c":"NA","k":"t","x":-8,"d":0.001},{"r":"EAO","c":"NA","k":"t","x":-5.6,"d":0.004},{"r":"EAO","c":"NA","k":"t","x":-2.6,"d":0.016},{"r":"EAO","c":"NA","k":"t","x":0,"d":0.034},{"r":"EAO","c":"NA","k":"t","x":3.4,"d":0.068},{"r":"EAO","c":"NA","k":"t","x":5,"d":0.079},{"r":"EAO","c":"NA","k":"t","x":6.4,"d":0.083},{"r":"EAO","c":"NA","k":"t","x":7.8,"d":0.078},{"r":"EAO","c":"NA","k":"t","x":9.3,"d":0.068},{"r":"EAO","c":"NA","k":"t","x":12.3,"d":0.05},{"r":"EAO","c":"NA","k":"t","x":15.3,"d":0.029},{"r":"EAO","c":"NA","k":"t","x":18.3,"d":0.009},{"r":"EAO","c":"NA","k":"t","x":20.7,"d":0.002},
{"r":"EAO","c":"NA","k":"i","x":-11.5,"x2":2.4,"d":0.14},{"r":"EAO","c":"NA","k":"i","x":-1.6,"x2":15.9,"d":0.13},{"r":"EAO","c":"NA","k":"v","x":0,"d":0.14,"d2":-0.005},

{"r":"NA","c":"A","k":"g","x":-17.5,"d":0},{"r":"NA","c":"A","k":"g","x":-16,"d":0.002},{"r":"NA","c":"A","k":"g","x":-14.5,"d":0.006},{"r":"NA","c":"A","k":"g","x":-12.5,"d":0.02},{"r":"NA","c":"A","k":"g","x":-10.5,"d":0.047},{"r":"NA","c":"A","k":"g","x":-8.2,"d":0.074},{"r":"NA","c":"A","k":"g","x":-5.6,"d":0.084},{"r":"NA","c":"A","k":"g","x":-4,"d":0.077},{"r":"NA","c":"A","k":"g","x":-2.6,"d":0.063},{"r":"NA","c":"A","k":"g","x":0,"d":0.04},{"r":"NA","c":"A","k":"g","x":1.7,"d":0.026},{"r":"NA","c":"A","k":"g","x":3.4,"d":0.015},{"r":"NA","c":"A","k":"g","x":5.4,"d":0.008},{"r":"NA","c":"A","k":"g","x":7.4,"d":0.004},{"r":"NA","c":"A","k":"g","x":10,"d":0.001},{"r":"NA","c":"A","k":"g","x":14,"d":0},{"r":"NA","c":"A","k":"g","x":35.2,"d":0},
{"r":"NA","c":"A","k":"t","x":-17.5,"d":0},{"r":"NA","c":"A","k":"t","x":-10,"d":0.001},{"r":"NA","c":"A","k":"t","x":-6.6,"d":0.002},{"r":"NA","c":"A","k":"t","x":-2.6,"d":0.008},{"r":"NA","c":"A","k":"t","x":1.4,"d":0.022},{"r":"NA","c":"A","k":"t","x":5.4,"d":0.042},{"r":"NA","c":"A","k":"t","x":9.3,"d":0.054},{"r":"NA","c":"A","k":"t","x":12.3,"d":0.057},{"r":"NA","c":"A","k":"t","x":14,"d":0.055},{"r":"NA","c":"A","k":"t","x":17.3,"d":0.047},{"r":"NA","c":"A","k":"t","x":21.3,"d":0.029},{"r":"NA","c":"A","k":"t","x":25.2,"d":0.013},{"r":"NA","c":"A","k":"t","x":30.2,"d":0.004},{"r":"NA","c":"A","k":"t","x":35.2,"d":0},
{"r":"NA","c":"A","k":"i","x":-12.6,"x2":5.4,"d":0.14},{"r":"NA","c":"A","k":"i","x":0,"x2":27.4,"d":0.13},{"r":"NA","c":"A","k":"v","x":0,"d":0.14,"d2":-0.005},

{"r":"NA","c":"EMC","k":"g","x":-17.5,"d":0},{"r":"NA","c":"EMC","k":"g","x":-16,"d":0.002},{"r":"NA","c":"EMC","k":"g","x":-14.5,"d":0.008},{"r":"NA","c":"EMC","k":"g","x":-12.5,"d":0.029},{"r":"NA","c":"EMC","k":"g","x":-10.5,"d":0.065},{"r":"NA","c":"EMC","k":"g","x":-9.1,"d":0.09},{"r":"NA","c":"EMC","k":"g","x":-7.6,"d":0.101},{"r":"NA","c":"EMC","k":"g","x":-6,"d":0.094},{"r":"NA","c":"EMC","k":"g","x":-4.6,"d":0.074},{"r":"NA","c":"EMC","k":"g","x":-2,"d":0.042},{"r":"NA","c":"EMC","k":"g","x":0,"d":0.024},{"r":"NA","c":"EMC","k":"g","x":3.4,"d":0.008},{"r":"NA","c":"EMC","k":"g","x":8.3,"d":0.002},{"r":"NA","c":"EMC","k":"g","x":12,"d":0},{"r":"NA","c":"EMC","k":"g","x":36.6,"d":0},
{"r":"NA","c":"EMC","k":"t","x":-17.5,"d":0},{"r":"NA","c":"EMC","k":"t","x":-7.6,"d":0.002},{"r":"NA","c":"EMC","k":"t","x":-3.6,"d":0.008},{"r":"NA","c":"EMC","k":"t","x":0,"d":0.024},{"r":"NA","c":"EMC","k":"t","x":3.4,"d":0.045},{"r":"NA","c":"EMC","k":"t","x":6.4,"d":0.063},{"r":"NA","c":"EMC","k":"t","x":9.3,"d":0.07},{"r":"NA","c":"EMC","k":"t","x":12.3,"d":0.056},{"r":"NA","c":"EMC","k":"t","x":15.3,"d":0.035},{"r":"NA","c":"EMC","k":"t","x":19.3,"d":0.017},{"r":"NA","c":"EMC","k":"t","x":24.3,"d":0.006},{"r":"NA","c":"EMC","k":"t","x":30.4,"d":0.002},{"r":"NA","c":"EMC","k":"t","x":36.6,"d":0},
{"r":"NA","c":"EMC","k":"i","x":-13.1,"x2":2.4,"d":0.14},{"r":"NA","c":"EMC","k":"i","x":-1.2,"x2":21.9,"d":0.13},{"r":"NA","c":"EMC","k":"v","x":0,"d":0.14,"d2":-0.005},

{"r":"NA","c":"EAO","k":"g","x":-17.5,"d":0},{"r":"NA","c":"EAO","k":"g","x":-16,"d":0.002},{"r":"NA","c":"EAO","k":"g","x":-14.5,"d":0.008},{"r":"NA","c":"EAO","k":"g","x":-12.5,"d":0.031},{"r":"NA","c":"EAO","k":"g","x":-10.5,"d":0.063},{"r":"NA","c":"EAO","k":"g","x":-8.9,"d":0.088},{"r":"NA","c":"EAO","k":"g","x":-7.2,"d":0.097},{"r":"NA","c":"EAO","k":"g","x":-5.8,"d":0.09},{"r":"NA","c":"EAO","k":"g","x":-4.6,"d":0.074},{"r":"NA","c":"EAO","k":"g","x":-2,"d":0.045},{"r":"NA","c":"EAO","k":"g","x":0,"d":0.026},{"r":"NA","c":"EAO","k":"g","x":3.4,"d":0.008},{"r":"NA","c":"EAO","k":"g","x":8.3,"d":0.002},{"r":"NA","c":"EAO","k":"g","x":12,"d":0},{"r":"NA","c":"EAO","k":"g","x":37.2,"d":0},
{"r":"NA","c":"EAO","k":"t","x":-17.5,"d":0},{"r":"NA","c":"EAO","k":"t","x":-6.6,"d":0.002},{"r":"NA","c":"EAO","k":"t","x":-2.6,"d":0.01},{"r":"NA","c":"EAO","k":"t","x":0,"d":0.026},{"r":"NA","c":"EAO","k":"t","x":3.4,"d":0.047},{"r":"NA","c":"EAO","k":"t","x":6.4,"d":0.061},{"r":"NA","c":"EAO","k":"t","x":9.9,"d":0.067},{"r":"NA","c":"EAO","k":"t","x":13.3,"d":0.054},{"r":"NA","c":"EAO","k":"t","x":16.3,"d":0.035},{"r":"NA","c":"EAO","k":"t","x":20.3,"d":0.017},{"r":"NA","c":"EAO","k":"t","x":25.2,"d":0.006},{"r":"NA","c":"EAO","k":"t","x":31.2,"d":0.002},{"r":"NA","c":"EAO","k":"t","x":37.2,"d":0},
{"r":"NA","c":"EAO","k":"i","x":-13.1,"x2":3.4,"d":0.14},{"r":"NA","c":"EAO","k":"i","x":-1.2,"x2":22,"d":0.13},{"r":"NA","c":"EAO","k":"v","x":0,"d":0.14,"d2":-0.005},

{"r":"NA","c":"NA","k":"g","x":-15.7,"d":0},{"r":"NA","c":"NA","k":"g","x":-14,"d":0.005},{"r":"NA","c":"NA","k":"g","x":-12.5,"d":0.025},{"r":"NA","c":"NA","k":"g","x":-11.3,"d":0.05},{"r":"NA","c":"NA","k":"g","x":-10.5,"d":0.07},{"r":"NA","c":"NA","k":"g","x":-9.5,"d":0.11},{"r":"NA","c":"NA","k":"g","x":-8,"d":0.138},{"r":"NA","c":"NA","k":"g","x":-6.8,"d":0.125},{"r":"NA","c":"NA","k":"g","x":-5.8,"d":0.1},{"r":"NA","c":"NA","k":"g","x":-4.8,"d":0.07},{"r":"NA","c":"NA","k":"g","x":-3.5,"d":0.035},{"r":"NA","c":"NA","k":"g","x":-2,"d":0.014},{"r":"NA","c":"NA","k":"g","x":0,"d":0.004},{"r":"NA","c":"NA","k":"g","x":3,"d":0.001},{"r":"NA","c":"NA","k":"g","x":6,"d":0},{"r":"NA","c":"NA","k":"g","x":15.2,"d":0},
{"r":"NA","c":"NA","k":"t","x":-15.7,"d":0},{"r":"NA","c":"NA","k":"t","x":-10,"d":0.001},{"r":"NA","c":"NA","k":"t","x":-7.7,"d":0.004},{"r":"NA","c":"NA","k":"t","x":-5.5,"d":0.01},{"r":"NA","c":"NA","k":"t","x":-3.4,"d":0.022},{"r":"NA","c":"NA","k":"t","x":-0.6,"d":0.049},{"r":"NA","c":"NA","k":"t","x":1.6,"d":0.083},{"r":"NA","c":"NA","k":"t","x":3.7,"d":0.101},{"r":"NA","c":"NA","k":"t","x":5.9,"d":0.094},{"r":"NA","c":"NA","k":"t","x":8,"d":0.067},{"r":"NA","c":"NA","k":"t","x":10.2,"d":0.035},{"r":"NA","c":"NA","k":"t","x":12.3,"d":0.01},{"r":"NA","c":"NA","k":"t","x":15.2,"d":0.001},
{"r":"NA","c":"NA","k":"i","x":-12.5,"x2":-1.2,"d":0.14},{"r":"NA","c":"NA","k":"i","x":-3.6,"x2":10.8,"d":0.13},{"r":"NA","c":"NA","k":"v","x":0,"d":0.14,"d2":-0.005}
]},
"config":{
"font":"Liberation Sans",
"view":{"stroke":"black","strokeWidth":2.5},
"axis":{"grid":false,"domain":false,"tickColor":"black","tickWidth":2,"tickSize":7,"labelFont":"Liberation Sans","labelFontSize":16,"labelColor":"#4d4d4d","labelPadding":3,"titleFont":"Liberation Sans","titleFontWeight":"normal","titleColor":"black","titleFontSize":20},
"title":{"font":"Liberation Sans","fontWeight":"normal","color":"black"},
"concat":{"spacing":20}
}
}
